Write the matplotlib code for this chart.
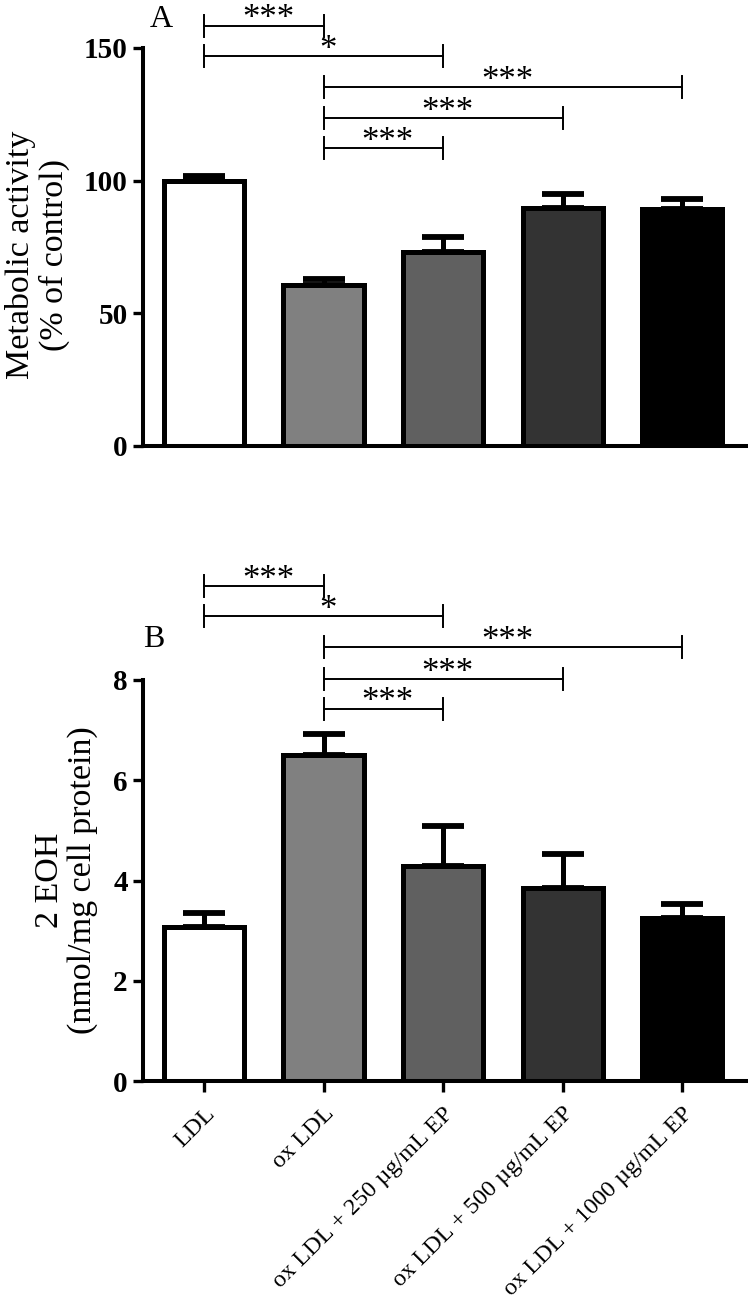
import matplotlib
matplotlib.use("Agg")
import matplotlib.pyplot as plt
import numpy as np

plt.rcParams['font.family'] = ['Liberation Serif', 'DejaVu Serif']

categories = ["LDL", "ox LDL", "ox LDL + 250 µg/mL EP",
              "ox LDL + 500 µg/mL EP", "ox LDL + 1000 µg/mL EP"]
bar_colors = ["#ffffff", "#808080", "#606060", "#333333", "#000000"]

metabolic_mean = [100.0, 60.6, 73.2, 89.6, 89.3]
metabolic_err = [1.7, 2.3, 5.6, 5.5, 3.8]

eoh_mean = [3.07, 6.50, 4.29, 3.86, 3.26]
eoh_err = [0.29, 0.43, 0.80, 0.66, 0.28]

# significance brackets: (group i, group j, height, label)
brackets_A = [(0, 1, 158.4, "***"), (0, 2, 146.9, "*"), (1, 4, 135.3, "***"),
              (1, 3, 123.5, "***"), (1, 2, 112.2, "***")]
brackets_B = [(0, 1, 9.87, "***"), (0, 2, 9.27, "*"), (1, 4, 8.65, "***"),
              (1, 3, 8.02, "***"), (1, 2, 7.43, "***")]

W, H = 748, 1304
fig = plt.figure(figsize=(W / 100, H / 100), dpi=100)
axA = fig.add_axes([143 / W, 1 - 446 / H, 605 / W, 398 / H])
axB = fig.add_axes([143 / W, 1 - 1081 / H, 605 / W, 401 / H])

x = np.arange(len(categories))


def draw(ax, means, errs, ylim, yticks, brackets, tick_half):
    ax.bar(x, means, width=0.67, color=bar_colors, edgecolor="black",
           linewidth=3.6, zorder=2)
    eb = ax.errorbar(x, means, yerr=[np.zeros(len(errs)), errs], fmt="none",
                     ecolor="black", elinewidth=3.6, capsize=15, capthick=4.2,
                     zorder=3)
    for cap in eb[1]:
        cap.set_solid_capstyle("round")
    ax.set_xlim(-0.51, 4.55)
    ax.set_ylim(*ylim)
    ax.set_yticks(yticks)
    ax.set_yticklabels([str(t) for t in yticks], fontweight="bold", fontsize=21)
    for s in ["top", "right"]:
        ax.spines[s].set_visible(False)
    for s in ["left", "bottom"]:
        ax.spines[s].set_linewidth(2.9)
    ax.tick_params(axis="y", length=7.5, width=2.4, pad=3.5)
    for (i, j, h, lab) in brackets:
        ax.plot([i, j], [h, h], color="black", lw=1.4, clip_on=False)
        ax.plot([i, i], [h - tick_half, h + tick_half], color="black", lw=1.4,
                clip_on=False)
        ax.plot([j, j], [h - tick_half, h + tick_half], color="black", lw=1.4,
                clip_on=False)
        ax.annotate(lab, xy=((i + j) / 2, h), xytext=(3, -2),
                    textcoords="offset points", ha="center", va="baseline",
                    fontsize=25, annotation_clip=False)


draw(axA, metabolic_mean, metabolic_err, (0, 150), [0, 50, 100, 150],
     brackets_A, 4.15)
draw(axB, eoh_mean, eoh_err, (0, 8), [0, 2, 4, 6, 8], brackets_B, 0.22)

axA.set_xticks([])
axB.set_xticks(x)
axB.set_xticklabels(categories, rotation=45, ha="right", va="top",
                    rotation_mode="anchor", fontsize=17.5)
axB.tick_params(axis="x", length=8, width=2.4, pad=8)

axA.set_ylabel("Metabolic activity\n(% of control)", fontsize=24.5,
               linespacing=1.1)
axA.yaxis.set_label_coords(-0.121, 0.48)
axB.set_ylabel("2 EOH\n(nmol/mg cell protein)", fontsize=24.5,
               linespacing=1.1)
axB.yaxis.set_label_coords(-0.074, 0.5)

fig.text(150 / W, 1 - 27 / H, "A", fontsize=23, ha="left", va="baseline")
fig.text(143 / W, 1 - 647 / H, "B", fontsize=23, ha="left", va="baseline")

fig.savefig("out.png", dpi=100)
